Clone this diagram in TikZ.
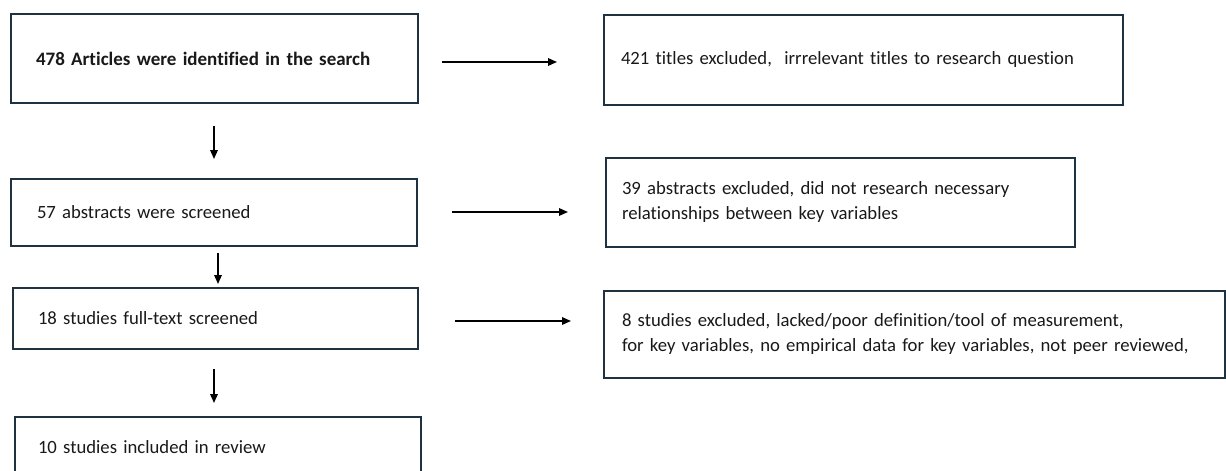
\documentclass[tikz,border=0pt]{standalone}
\usepackage{fontspec}
\setmainfont{Carlito}[Ligatures=NoCommon]
\usetikzlibrary{arrows.meta}
\definecolor{boxc}{RGB}{30,50,66}
\definecolor{txt}{RGB}{25,25,25}
\begin{document}
\begin{tikzpicture}[x=1pt,y=-1pt,
  box/.style={draw=boxc, line width=2pt, align=left, text=txt, inner ysep=0pt, anchor=center,
    font=\fontsize{18.7}{25}\selectfont},
  arr/.style={draw=black, line width=1.6pt, -{Triangle[length=9pt,width=7.5pt]}}]
\fill[white] (0,0) rectangle (1226,471);
\useasboundingbox (0,0) rectangle (1226,471);
% left column
\node[box, minimum width=407pt, minimum height=89pt, text width=357pt, inner xsep=25pt,
  font=\fontsize{19}{25}\selectfont\bfseries] (b1) at (214.5,58.5) {478 Articles were identified in the search};
\node[box, minimum width=406pt, minimum height=67pt, text width=354pt, inner xsep=26pt] (b2) at (214,212.5) {57 abstracts were screened};
\node[box, minimum width=405pt, minimum height=61pt, text width=355pt, inner xsep=25pt] (b3) at (215.5,318.5) {18 studies full-text screened};
\node[box, minimum width=406pt, minimum height=60pt, text width=360pt, inner xsep=23pt] (b4) at (218,447) {10 studies included in review};
% right column
\node[box, minimum width=519pt, minimum height=90pt, text width=485pt, inner xsep=17pt] (r1) at (863.5,60) {421 titles excluded,~ irrrelevant titles to research question};
\node[box, minimum width=469pt, minimum height=89pt, text width=437pt, inner xsep=16pt] (r2) at (840.5,202.5) {39 abstracts excluded, did not research necessary\\relationships between key variables};
\node[box, minimum width=621pt, minimum height=87pt, text width=585pt, inner xsep=18pt] (r3) at (914.5,334.5) {8 studies excluded, lacked/poor definition/tool of measurement,\\for key variables, no empirical data for key variables, not peer reviewed,};
% arrow ends
\coordinate (h1s) at (442,62);  \coordinate (h1e) at (557,62);
\coordinate (h2s) at (452,212); \coordinate (h2e) at (568,212);
\coordinate (h3s) at (455,321); \coordinate (h3e) at (571,321);
\coordinate (v1s) at (214,126); \coordinate (v1e) at (214,159);
\coordinate (v2s) at (218,253); \coordinate (v2e) at (218,284);
\coordinate (v3s) at (214,369); \coordinate (v3e) at (214,403);
\draw[arr] (h1s) -- (h1e);
\draw[arr] (h2s) -- (h2e);
\draw[arr] (h3s) -- (h3e);
\draw[arr] (v1s) -- (v1e);
\draw[arr] (v2s) -- (v2e);
\draw[arr] (v3s) -- (v3e);
\end{tikzpicture}
\end{document}
